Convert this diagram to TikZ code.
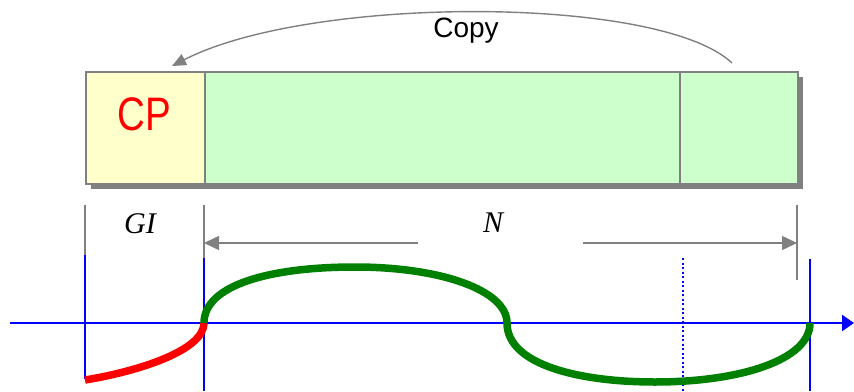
\documentclass[tikz,border=0pt]{standalone}
\usepackage{fontspec}
\setmainfont{Liberation Serif}
\newfontfamily\sansf{Liberation Sans}
\usetikzlibrary{arrows.meta}
\definecolor{cpyellow}{HTML}{FFFFCC}
\definecolor{symgreen}{HTML}{CCFFCC}
\definecolor{lgray}{HTML}{808080}
\definecolor{dgreen}{HTML}{008000}
\begin{document}
\begin{tikzpicture}[x=1pt,y=-1pt,
  boxpart/.style={draw=lgray, line width=1.6pt, inner sep=0pt, anchor=north west, minimum height=112pt},
  dimline/.style={draw=lgray, line width=1.5pt},
  dimarrow/.style={dimline, -{Triangle[length=15pt,width=14pt]}},
  bluel/.style={draw=blue, line width=2.5pt},
  wave/.style={line width=7.5pt},
  lbl/.style={font=\fontsize{30}{32}\selectfont\itshape, anchor=base}
]
\useasboundingbox (0,0) rectangle (854,391);
% shadow
\fill[lgray] (91,77) rectangle (803,189);
% frame parts
\node[boxpart, fill=cpyellow, minimum width=119pt] (cp) at (85,71) {};
\node[boxpart, fill=symgreen, minimum width=475pt] (data) at (204,71) {};
\node[boxpart, fill=symgreen, minimum width=118pt] (tail) at (679,71) {};
\node[anchor=base, text=red, font=\sansf\fontsize{47}{49}\selectfont, xscale=0.82] (cptext) at (144.5,130) {CP};
% copy arrow
\coordinate (cpyS) at (732,63);
\coordinate (cpyE) at (172,66);
\draw[dimline, line width=1.4pt, -{Triangle[length=14pt,width=12pt]}] (cpyS) .. controls (660,-5) and (310,-5) .. (cpyE);
\node[anchor=base, font=\sansf\fontsize{28}{30}\selectfont] (copy) at (466,37) {Copy};
% dimension lines
\coordinate (g1t) at (85,205);  \coordinate (g1b) at (85,256);
\coordinate (g2t) at (204,205); \coordinate (g2b) at (204,280);
\coordinate (g3t) at (797,205); \coordinate (g3b) at (797,280);
\draw[dimline] (g1t) -- (g1b);
\draw[dimline] (g2t) -- (g2b);
\draw[dimline] (g3t) -- (g3b);
\coordinate (a1s) at (418,243); \coordinate (a1e) at (204,243);
\coordinate (a2s) at (583,243); \coordinate (a2e) at (797,243);
\draw[dimarrow] (a1s) -- (a1e);
\draw[dimarrow] (a2s) -- (a2e);
\node[lbl] (gi) at (140,233) {GI};
\node[lbl] (n) at (493,232) {N};
% axis
\coordinate (ax0) at (10,323); \coordinate (ax1) at (854,323);
\draw[bluel, -{Triangle[length=12pt,width=16pt]}] (ax0) -- (ax1);
\coordinate (v1t) at (85,255);  \coordinate (v1b) at (85,379);
\coordinate (v2t) at (204,258); \coordinate (v2b) at (204,391);
\coordinate (v3t) at (810,259); \coordinate (v3b) at (810,391);
\coordinate (v4t) at (683,258); \coordinate (v4b) at (683,391);
\draw[bluel] (v1t) -- (v1b);
\draw[bluel] (v2t) -- (v2b);
\draw[bluel] (v3t) -- (v3b);
\draw[draw=blue, line width=2pt, dash pattern=on 2pt off 2.5pt] (v4t) -- (v4b);
% waveform
\coordinate (w0) at (85,380);
\coordinate (w1) at (204,323);
\coordinate (w2) at (355,267);
\coordinate (w3) at (507,323);
\coordinate (w4) at (655,382);
\coordinate (w5) at (810,323);
\draw[wave, red] (w0) .. controls (140,371) and (204,350) .. (w1);
\draw[wave, dgreen] (w1) .. controls (204,285) and (270,267) .. (w2)
  .. controls (440,267) and (507,290) .. (w3)
  .. controls (507,365) and (580,382) .. (w4)
  .. controls (740,382) and (810,360) .. (w5);
\end{tikzpicture}
\end{document}
